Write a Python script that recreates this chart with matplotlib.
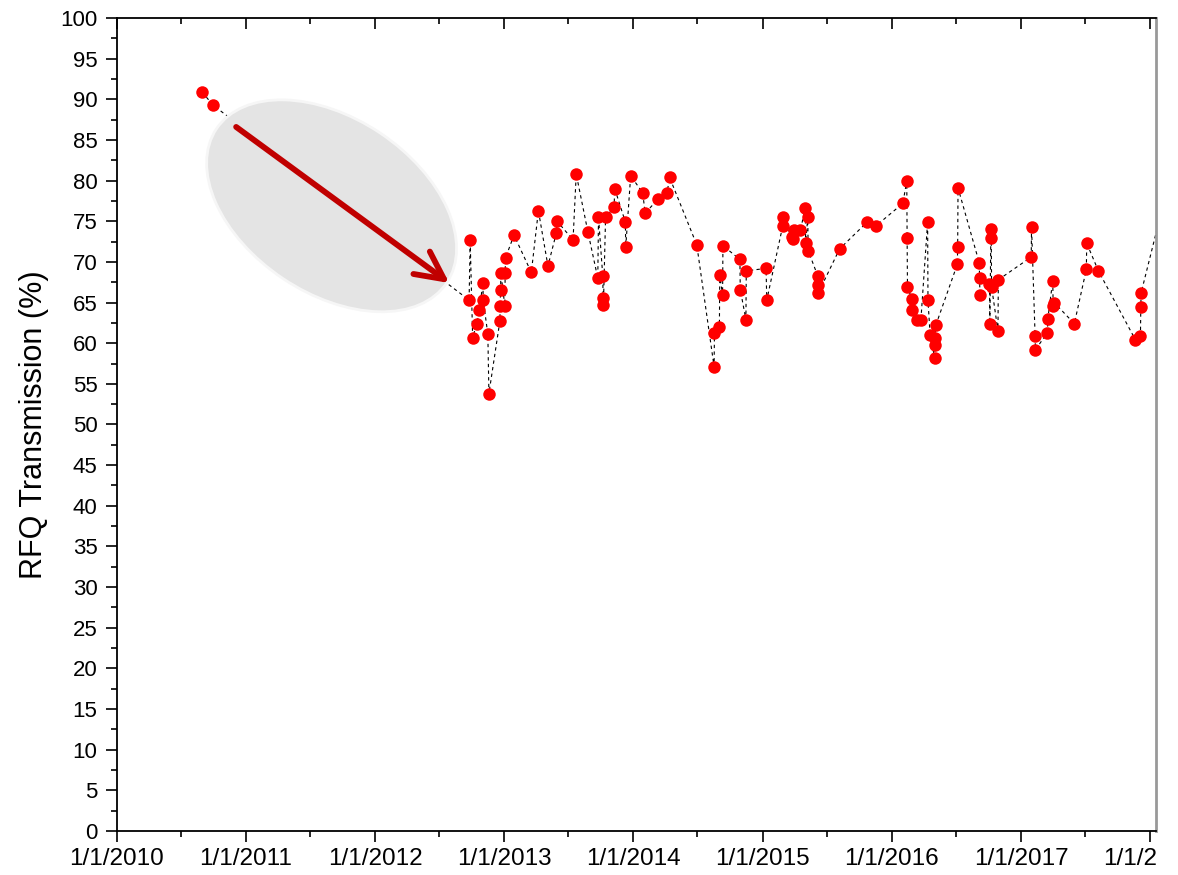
import numpy as np
import pandas as pd
import matplotlib
matplotlib.use('Agg')
import matplotlib.pyplot as plt
import matplotlib.dates as mdates
from matplotlib.patches import Ellipse
from matplotlib.transforms import ScaledTranslation, Bbox, TransformedBbox
from matplotlib.ticker import MultipleLocator, FuncFormatter

plt.rcParams['font.family'] = ['Liberation Sans', 'DejaVu Sans']

# measurement dates and RFQ transmission (%)
dates = [
    '2010-08-30', '2010-09-29',
    '2012-09-23', '2012-09-26', '2012-10-03', '2012-10-15', '2012-10-22',
    '2012-11-01', '2012-11-02', '2012-11-15', '2012-11-18', '2012-12-19',
    '2012-12-20', '2012-12-21', '2012-12-22',
    '2013-01-02', '2013-01-03', '2013-01-04', '2013-01-28', '2013-03-18',
    '2013-04-07', '2013-05-04', '2013-05-28', '2013-05-30', '2013-07-14',
    '2013-07-23', '2013-08-25', '2013-09-22', '2013-09-24', '2013-10-06',
    '2013-10-07', '2013-10-08', '2013-10-14', '2013-11-07', '2013-11-09',
    '2013-12-09', '2013-12-10', '2013-12-24',
    '2014-01-27', '2014-02-03', '2014-03-11', '2014-04-06', '2014-04-13',
    '2014-06-29', '2014-08-17', '2014-08-18', '2014-09-01', '2014-09-02',
    '2014-09-10', '2014-09-11', '2014-10-29', '2014-10-30', '2014-11-15',
    '2014-11-16',
    '2015-01-11', '2015-01-13', '2015-02-27', '2015-02-28', '2015-03-24',
    '2015-03-29', '2015-03-31', '2015-04-18', '2015-05-02', '2015-05-03',
    '2015-05-09', '2015-05-10', '2015-06-06', '2015-06-07', '2015-06-08',
    '2015-08-07', '2015-10-24', '2015-11-17',
    '2016-02-02', '2016-02-13', '2016-02-14', '2016-02-15', '2016-02-28',
    '2016-02-29', '2016-03-13', '2016-03-24', '2016-04-12', '2016-04-13',
    '2016-04-19', '2016-05-02', '2016-05-03', '2016-05-04', '2016-05-05',
    '2016-07-05', '2016-07-06', '2016-07-07', '2016-09-05', '2016-09-06',
    '2016-09-07', '2016-10-04', '2016-10-05', '2016-10-08', '2016-10-09',
    '2016-10-10', '2016-10-28', '2016-10-29',
    '2017-01-30', '2017-01-31', '2017-02-10', '2017-02-11', '2017-03-17',
    '2017-03-18', '2017-04-01', '2017-04-02', '2017-04-05', '2017-06-01',
    '2017-07-05', '2017-07-06', '2017-08-08', '2017-11-21', '2017-12-05',
    '2017-12-06', '2017-12-07',
    '2018-02-15',
]
transmission = [
    90.9, 89.3,
    65.3, 72.7, 60.7, 62.4, 64.1,
    67.4, 65.3, 61.1, 53.8, 62.7,
    64.6, 66.6, 68.6,
    64.6, 68.6, 70.5, 73.3, 68.7,
    76.3, 69.5, 73.6, 75.0, 72.7,
    80.8, 73.7, 68.0, 75.5, 68.3,
    65.6, 64.7, 75.5, 76.7, 79.0,
    74.9, 71.8, 80.6,
    78.5, 76.0, 77.7, 78.5, 80.4,
    72.1, 57.1, 61.2, 62.0, 68.4,
    65.9, 72.0, 70.3, 66.6, 62.9,
    68.9,
    69.2, 65.3, 74.4, 75.5, 73.1,
    72.8, 73.9, 73.9, 76.6, 72.3,
    75.5, 71.4, 68.3, 67.2, 66.2,
    71.6, 74.9, 74.4,
    77.2, 80.0, 72.9, 66.9, 65.4,
    64.1, 62.9, 62.9, 74.9, 65.3,
    61.0, 58.2, 59.8, 60.7, 62.2,
    69.7, 71.8, 79.1, 69.9, 68.0,
    65.9, 67.3, 62.4, 74.0, 72.9,
    66.9, 61.5, 67.8,
    70.6, 74.3, 60.9, 59.2, 61.3,
    63.0, 67.7, 64.6, 65.0, 62.4,
    69.1, 72.3, 68.9, 60.4, 60.9,
    64.5, 66.2,
    78.4,
]

t = pd.to_datetime(dates)

fig = plt.figure(figsize=(11.78, 8.75), dpi=100)
ax = fig.add_axes([117/1178, 44/875, 1039/1178, 813/875])

ax.plot(t, transmission, color='black', ls=(0, (3, 3)), lw=0.8,
        marker='o', ms=9, mfc='#ff0000', mec='#ff0000', mew=0, zorder=2)

x0 = pd.Timestamp('2010-01-01')
x1 = pd.Timestamp('2018-01-18')
ax.set_xlim(x0, x1)
ax.set_ylim(0, 100)

# grey highlight ellipse + arrow
cx = mdates.date2num(pd.Timestamp('2011-08-31'))
tr = fig.dpi_scale_trans + ScaledTranslation(cx, 76.9, ax.transData)
ell = Ellipse((0, 0), 2.77, 1.75, angle=-33.8, transform=tr,
              facecolor='#e4e4e4', edgecolor='#f6f6f6', lw=2, zorder=3)
ax.add_patch(ell)
ax.annotate('', xy=(pd.Timestamp('2012-07-29'), 67.4),
            xytext=(pd.Timestamp('2010-12-04'), 86.6),
            arrowprops=dict(arrowstyle='->,head_length=2.0,head_width=1.0',
                            color='#c00000', lw=4.2, shrinkA=0, shrinkB=0),
            zorder=4)

# axes styling
ax.xaxis.set_major_locator(mdates.YearLocator())
ax.xaxis.set_minor_locator(mdates.MonthLocator(bymonth=7))
ax.xaxis.set_major_formatter(FuncFormatter(
    lambda v, p: '{0}/{1}/{2}'.format(*[(d.month, d.day, d.year) for d in [mdates.num2date(v)]][0])))
ax.yaxis.set_major_locator(MultipleLocator(5))
ax.yaxis.set_minor_locator(MultipleLocator(2.5))

ax.tick_params(axis='both', which='major', direction='out', length=8, width=1.2)
ax.tick_params(axis='both', which='minor', direction='out', length=4, width=1.2)
ax.tick_params(axis='x', labelsize=17.5, pad=4)
ax.tick_params(axis='y', labelsize=16, pad=6)
ax.tick_params(right=False, top=False, which='both')

for s in ['left', 'bottom', 'top']:
    ax.spines[s].set_linewidth(1.3)
ax.spines['right'].set_color('#999999')
ax.spines['right'].set_linewidth(2)

ax2 = ax.twiny()
ax2.set_xlim(mdates.date2num(x0), mdates.date2num(x1))
ax2.xaxis.set_major_locator(mdates.YearLocator())
ax2.xaxis.set_minor_locator(mdates.MonthLocator(bymonth=7))
ax2.tick_params(axis='x', which='major', direction='in', length=8, width=1.2, labeltop=False)
ax2.tick_params(axis='x', which='minor', direction='in', length=4, width=1.2)
for s in ax2.spines.values():
    s.set_visible(False)

ax.set_ylabel('RFQ Transmission (%)', fontsize=22, labelpad=8)

# last date label is cut at the right border
fig.canvas.draw()
clip = TransformedBbox(Bbox([[-0.2, -1], [1.0, 2]]), ax.transAxes)
for tk in ax.xaxis.get_major_ticks():
    tk.label1.set_clip_on(True)
    tk.label1.set_clip_box(clip)

fig.savefig('out.png', dpi=100)
